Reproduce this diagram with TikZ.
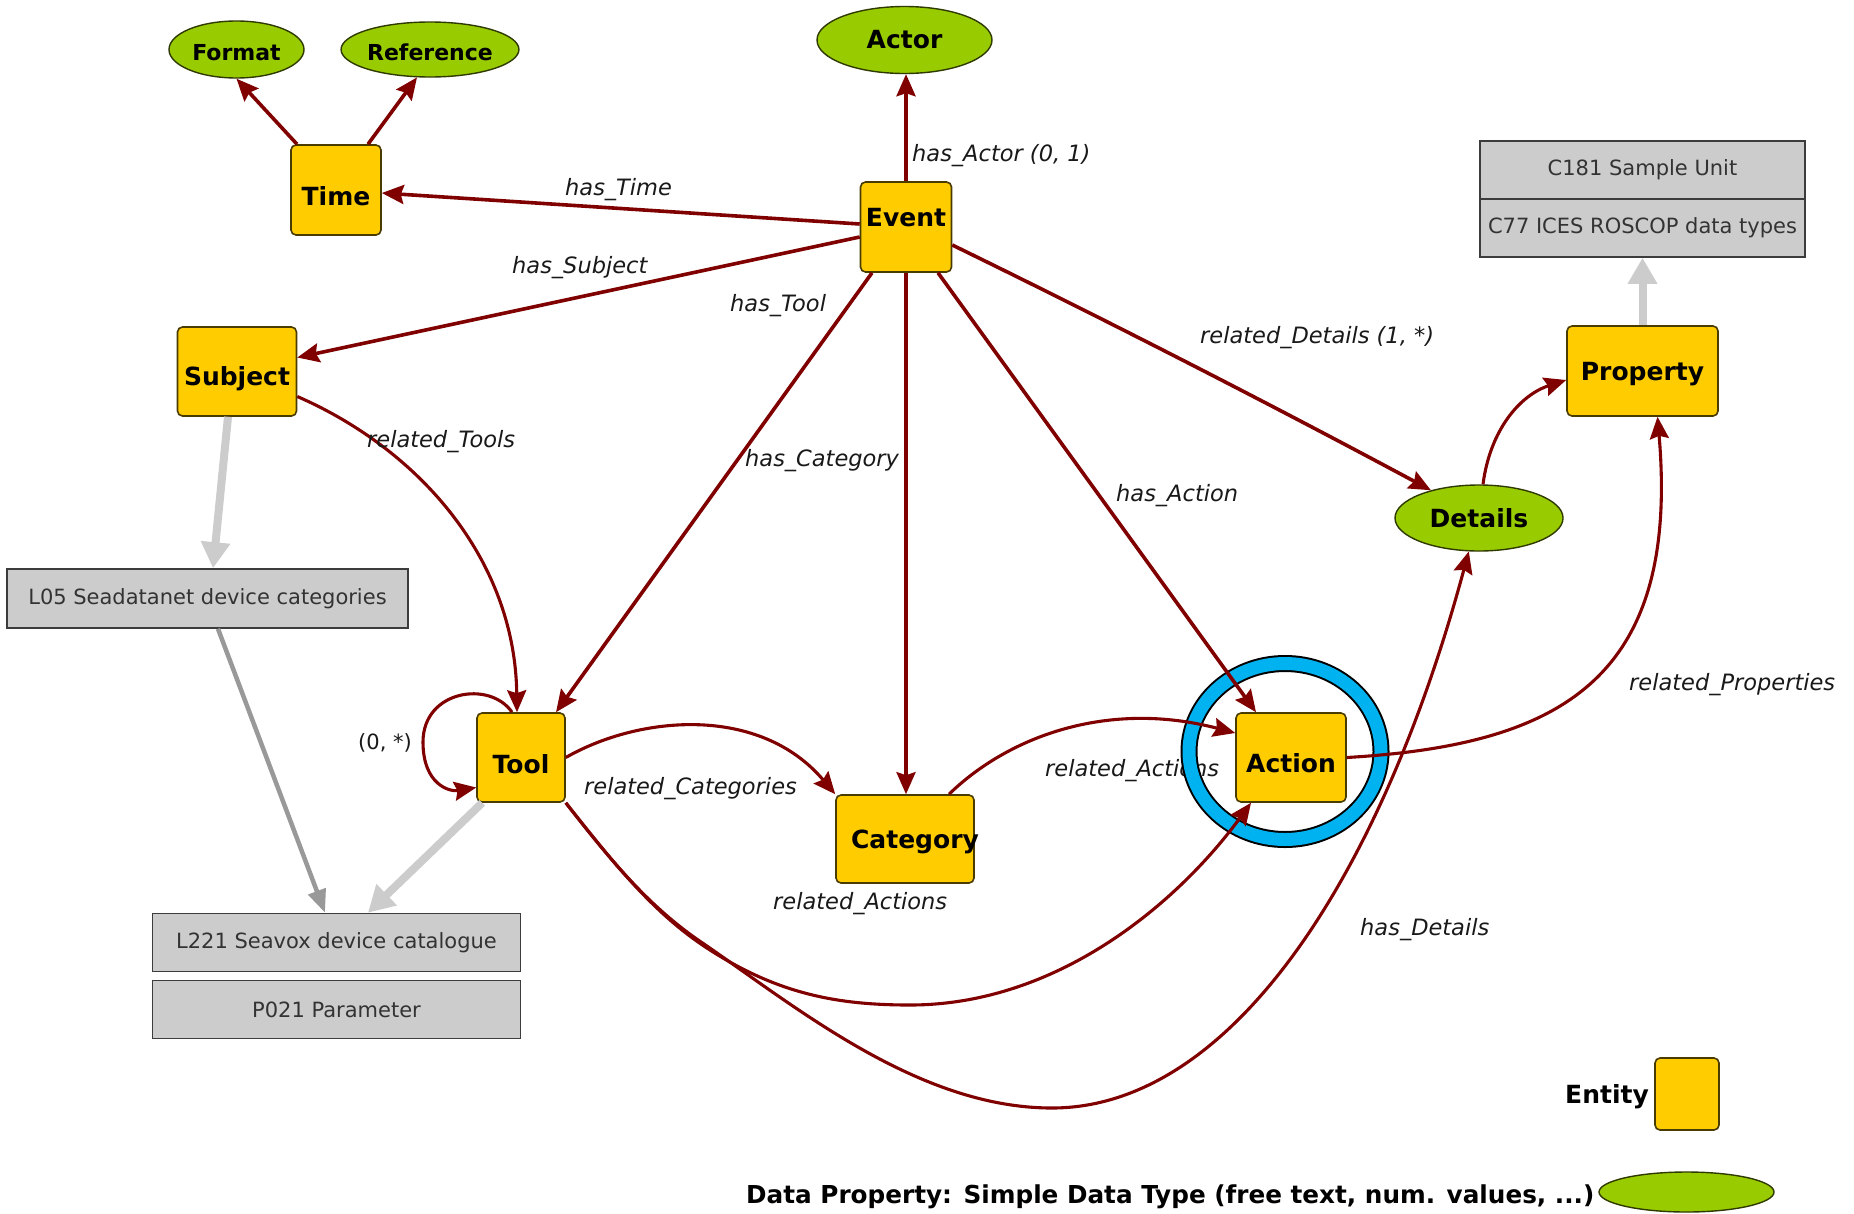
\documentclass[tikz,border=0pt]{standalone}
\usepackage{fontspec}
\setmainfont{DejaVu Sans}
\usetikzlibrary{arrows.meta,shapes.geometric}

\definecolor{entityfill}{HTML}{FFCC00}
\definecolor{entityline}{HTML}{4A3C00}
\definecolor{datafill}{HTML}{99CC00}
\definecolor{dataline}{HTML}{2F3A00}
\definecolor{relred}{HTML}{800000}
\definecolor{vocfill}{HTML}{CCCCCC}
\definecolor{vocline}{HTML}{3C3C3C}
\definecolor{voctext}{HTML}{333333}
\definecolor{linklight}{HTML}{CCCCCC}
\definecolor{linkdark}{HTML}{999999}
\definecolor{ringblue}{HTML}{00B2F0}

\begin{document}
\begin{tikzpicture}[x=1pt, y=-1pt,
  entfont/.style={font=\fontsize{25}{30}\selectfont\bfseries},
  entity/.style={rectangle, draw=entityline, line width=1.6pt, fill=entityfill,
    rounded corners=5pt, inner sep=0pt, text=black, entfont},
  % lowers (or raises, if negative) the caption inside a box by #1 pt
  lower/.style={text height={18.2pt+2*(#1)}, text depth=0pt},
  raise/.style={text height=9pt, text depth={9pt+2*(#1)-18.2pt}},
  datap/.style={ellipse, draw=dataline, line width=1.4pt, fill=datafill,
    inner sep=0pt, text=black, entfont},
  vocab/.style={rectangle, draw=vocline, line width=1.6pt, fill=vocfill,
    inner sep=0pt, text=voctext, font=\fontsize{21}{25}\selectfont},
  rel/.style={draw=relred, line width=3.6pt,
    -{Stealth[length=22pt, width=19pt, inset=3pt]}},
  relcurve/.style={rel, line width=3.1pt},
  rellabel/.style={anchor=base west, inner sep=0pt, text=black!90,
    font=\fontsize{22.5}{27}\selectfont\itshape},
  maplight/.style={draw=linklight, line width=8pt,
    -{Triangle[length=26pt, width=28pt]}},
  mapdark/.style={draw=linkdark, line width=4.5pt,
    -{Triangle[length=23pt, width=18pt]}},
  legendtext/.style={anchor=base west, inner sep=0pt, text=black, entfont},
]
\fill[white] (0,0) rectangle (1854,1213);
\useasboundingbox (0,0) rectangle (1854,1213);

% data properties (simple types)
\node[datap, minimum width=135pt, minimum height=57pt, lower=2,
  font=\fontsize{22}{26}\selectfont\bfseries] (format) at (236.5,49.5) {Format};
\node[datap, minimum width=170pt, minimum height=55pt, lower=2,
  font=\fontsize{22}{26}\selectfont\bfseries] (reference) at (430,49.5) {Reference};
\node[datap, minimum width=175pt, minimum height=67pt] (actor) at (904.5,40) {Actor};
\node[datap, minimum width=168pt, minimum height=66pt] (details) at (1479,518) {Details};

% entities
\node[entity, minimum width=90pt, minimum height=90pt, lower=6] (time) at (336,190) {Time};
\node[entity, minimum width=91pt, minimum height=90pt, raise=9.5] (event) at (906,227) {Event};
\node[entity, minimum width=119pt, minimum height=89pt, lower=4.5] (subject) at (237,371.5) {Subject};
\node[entity, minimum width=151pt, minimum height=90pt, lower=0] (property) at (1642.5,371) {Property};
\node[entity, minimum width=88pt, minimum height=89pt, lower=7] (tool) at (521,757.5) {Tool};
\node[entity, minimum width=138pt, minimum height=88pt,
  label={[entfont, text=black, xshift=10pt, yshift=-3pt]center:Category}] (category) at (905,839) {};
\node[entity, minimum width=110pt, minimum height=89pt, lower=5.5] (action) at (1291,757.5) {Action};

% controlled vocabularies
\node[vocab, minimum width=325pt, minimum height=58pt] (c181) at (1642.5,170) {C181 Sample Unit};
\node[vocab, minimum width=325pt, minimum height=58pt] (c77) at (1642.5,228) {C77 ICES ROSCOP data types};
\node[vocab, minimum width=401pt, minimum height=59pt] (l05) at (207.5,598.5) {L05 Seadatanet device categories};
\node[vocab, minimum width=368pt, minimum height=58pt] (l221) at (336.5,942.5) {L221 Seavox device catalogue};
\node[vocab, minimum width=368pt, minimum height=58pt] (p021) at (336.5,1009.5) {P021 Parameter};

% legend
\node[entity, minimum width=64pt, minimum height=72pt] (legentity) at (1687,1094) {};
\node[legendtext] (legentitytext) at (1565,1103) {Entity};
\node[datap, minimum width=175pt, minimum height=40pt] (legdata) at (1686.5,1192) {};
\node[legendtext, font=\fontsize{24.7}{30}\selectfont\bfseries] (legdatatext) at (746,1203)
  {Data Property: Simple Data Type (free text, num. values, ...)};

% label partly hidden by the highlight ring
\node[rellabel] (l-ractions-a) at (1045,776) {related\_Actions};

% highlight ring around Action
\node[ellipse, draw=black, double=ringblue, double distance=13pt, line width=2pt,
  minimum width=192pt, minimum height=176pt, inner sep=0pt] (ring) at (1285,751.5) {};

% vocabulary mappings
\draw[maplight] (property.north) -- (c77.south);
\draw[maplight] ([xshift=-9pt]subject.south) -- ([xshift=5.5pt]l05.north);
\draw[mapdark] ([xshift=10.5pt]l05.south) -- ([xshift=-11.5pt]l221.north);
\draw[maplight] ([xshift=6pt]tool.south west) -- ([xshift=31.5pt]l221.north);

% relations
\draw[rel] ([xshift=-39pt]time.north) -- (format.south);
\draw[rel] ([xshift=32pt]time.north) -- (reference.245);
\draw[rel] ([yshift=3pt]event.west) -- ([yshift=-3pt]time.east);
\draw[rel] (event.north) -- (event.north |- actor.south);
\draw[rel] ([yshift=-10pt]event.west) -- ([yshift=14pt]subject.east);
\draw[rel] ([xshift=-34pt]event.south) -- ([xshift=35pt]tool.north);
\draw[rel] (event.south) -- (event.south |- category.north);
\draw[rel] ([xshift=32pt]event.south) -- ([xshift=-35pt]action.north);
\draw[rel] ([yshift=-18pt]event.east) .. controls (1110,322) and (1270,404) .. (details.150);
\draw[relcurve] ([yshift=-25pt]subject.east) .. controls (420,450) and (515,560) .. ([xshift=-4pt]tool.north);
\draw[relcurve] ([xshift=-9pt]tool.north) .. controls (490,680) and (423,690) .. (423,742)
  .. controls (423,785) and (450,792) .. ([yshift=-30pt]tool.west);
\draw[relcurve] (tool.east) .. controls (640,715) and (760,705) .. (category.north west);
\draw[relcurve] ([xshift=44pt]category.north) .. controls (1010,735) and (1110,700) .. ([yshift=24.5pt]action.west);
\draw[relcurve] (tool.south east) .. controls (615,865) and (655,915) .. (710,950)
  .. controls (780,995) and (840,1005) .. (910,1005)
  .. controls (1060,1005) and (1180,900) .. ([xshift=-40pt]action.south);
\draw[relcurve] (tool.south east) .. controls (612,862) and (650,908) .. (704,944)
  .. controls (800,1010) and (920,1108) .. (1052,1108)
  .. controls (1230,1108) and (1380,880) .. (details.253);
\draw[relcurve] ([xshift=4pt]details.north) .. controls (1490,430) and (1520,395) .. ([yshift=-9pt]property.west);
\draw[relcurve] (action.east) .. controls (1560,745) and (1680,680) .. ([xshift=15pt]property.south);

% relation labels
\node[rellabel] (l-actor) at (912,161) {has\_Actor (0, 1)};
\node[rellabel] (l-time) at (565,195) {has\_Time};
\node[rellabel] (l-subject) at (512,273) {has\_Subject};
\node[rellabel] (l-tool) at (730,311) {has\_Tool};
\node[rellabel] (l-category) at (745,466) {has\_Category};
\node[rellabel] (l-details) at (1200,343) {related\_Details (1, *)};
\node[rellabel] (l-action) at (1116,501) {has\_Action};
\node[rellabel] (l-rcategories) at (584,794) {related\_Categories};
\node[rellabel] (l-ractions-b) at (773,909) {related\_Actions};
\node[rellabel] (l-rtools) at (367,447) {related\_Tools};
\node[rellabel] (l-rprops) at (1629,690) {related\_Properties};
\node[rellabel] (l-hasdetails) at (1360,935) {has\_Details};
\node[rellabel, font=\fontsize{21}{25}\selectfont] (l-loop) at (358,749) {(0, *)};
\end{tikzpicture}
\end{document}
